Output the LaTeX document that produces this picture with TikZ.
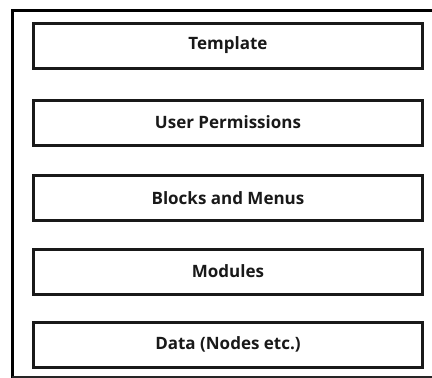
\documentclass[tikz,border=0pt]{standalone}
\usepackage{fontspec}
\setmainfont{Open Sans}
\begin{document}
\begin{tikzpicture}[x=1pt,y=-1pt,
  layerbox/.style={draw=black!90,line width=3pt,minimum width=389pt,minimum height=45pt,
    inner sep=0pt,font=\fontsize{17}{20}\selectfont\bfseries,text=black!90}]
\useasboundingbox (0,0) rectangle (432,378);
\fill[white] (0,0) rectangle (432,378);
% outer frame (right side cut off)
\coordinate (ftr) at (432,10.5);
\coordinate (ftl) at (12.5,10.5);
\coordinate (fbl) at (12.5,378);
\draw[line width=3.5pt,black] (ftr) -- (ftl) -- (fbl);
\coordinate (bl) at (12,376.8);
\coordinate (br) at (432,376.8);
\draw[line width=1.5pt,black!85] (bl) -- (br);
% layers
\node[layerbox] (template) at (228,45.5) {Template};
\node[layerbox] (perm) at (228,122.5) {User Permissions};
\node[layerbox] (blocks) at (228,198) {Blocks and Menus};
\node[layerbox] (modules) at (228,271.5) {Modules};
\node[layerbox] (data) at (228,344.5) {Data (Nodes etc.)};
\end{tikzpicture}
\end{document}
